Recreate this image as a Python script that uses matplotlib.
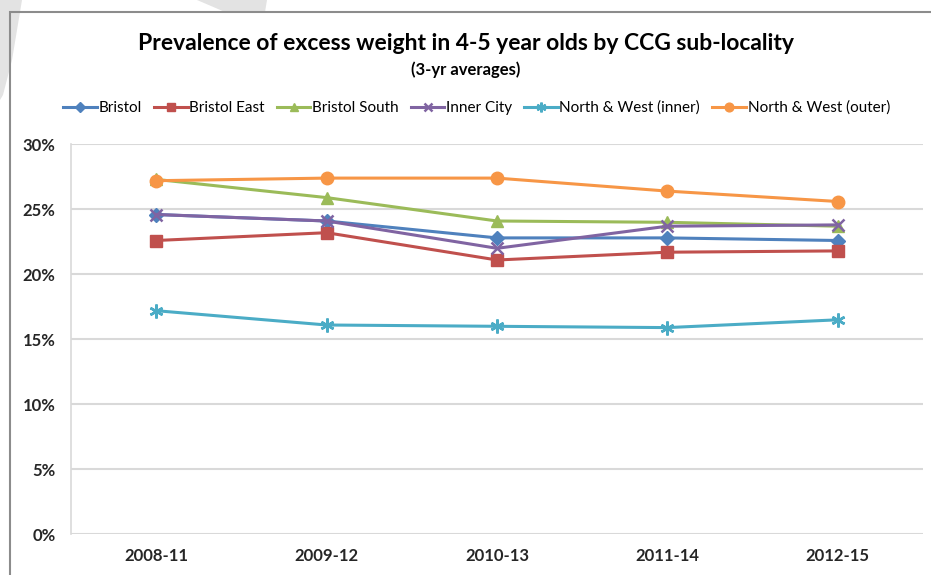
import matplotlib.pyplot as plt
from matplotlib.patches import Polygon, Rectangle
from matplotlib.ticker import FuncFormatter

# data (percent)
periods = ["2008-11", "2009-12", "2010-13", "2011-14", "2012-15"]
bristol = [24.6, 24.1, 22.8, 22.8, 22.6]
bristol_east = [22.6, 23.2, 21.1, 21.7, 21.8]
bristol_south = [27.3, 25.9, 24.1, 24.0, 23.7]
inner_city = [24.6, 24.1, 22.0, 23.7, 23.8]
nw_inner = [17.2, 16.1, 16.0, 15.9, 16.5]
nw_outer = [27.2, 27.4, 27.4, 26.4, 25.6]

series = [
    ("Bristol", bristol, "#4F81BD", "D", 7),
    ("Bristol East", bristol_east, "#C0504D", "s", 8),
    ("Bristol South", bristol_south, "#9BBB59", "^", 9),
    ("Inner City", inner_city, "#8064A2", "x", 8),
    ("North & West (inner)", nw_inner, "#4BACC6", (6, 2, 0), 10),
    ("North & West (outer)", nw_outer, "#F79646", "o", 9),
]

plt.rcParams['font.family'] = ['Lato', 'DejaVu Sans']

fig = plt.figure(figsize=(9.31, 5.75), dpi=100)

# faint watermark fragments in the top-left corner
fig.patches.append(Polygon([(0, 1), (22 / 931, 1), (12 / 931, 1 - 60 / 575), (3 / 931, 1 - 95 / 575), (0, 1 - 100 / 575)],
                           closed=True, transform=fig.transFigure, facecolor="#e3e3e3", edgecolor="none", zorder=0))
fig.patches.append(Polygon([(197 / 931, 1), (267 / 931, 1), (265 / 931, 1 - 12 / 575), (225 / 931, 1 - 12 / 575)],
                           closed=True, transform=fig.transFigure, facecolor="#e3e3e3", edgecolor="none", zorder=0))
# chart frame (runs off right and bottom)
fig.patches.append(Rectangle((9.5 / 931, -0.01), 1.0, 1 - 11.5 / 575 + 0.01, transform=fig.transFigure,
                             facecolor="none", edgecolor="#8c8c8c", linewidth=1.5, zorder=1))

ax = fig.add_axes([71 / 931, 1 - 534.3 / 575, (923 - 71) / 931, 390 / 575])
x = list(range(len(periods)))
for name, vals, col, mk, ms in series:
    ax.plot(x, vals, color=col, marker=mk, markersize=ms, linewidth=2.2, label=name,
            markeredgewidth=1.8 if mk in ("x", (6, 2, 0)) else 1.0)

ax.set_xlim(-0.5, len(periods) - 0.5)
ax.set_ylim(0, 30)
ax.set_yticks(range(0, 31, 5))
ax.yaxis.set_major_formatter(FuncFormatter(lambda v, p: f"{int(v)}%"))
ax.set_xticks(x)
ax.set_xticklabels(periods)
ax.grid(axis="y", color="#d9d9d9", linewidth=1.5)
ax.set_axisbelow(True)
for s in ("top", "right", "bottom"):
    ax.spines[s].set_visible(False)
ax.spines["left"].set_color("#d9d9d9")
ax.spines["left"].set_linewidth(1.2)
ax.tick_params(length=0, labelsize=12, pad=11)
ax.tick_params(axis="x", pad=10)
for lbl in ax.get_xticklabels() + ax.get_yticklabels():
    lbl.set_fontweight("bold")
    lbl.set_color("#262626")

fig.text(0.5, 1 - 44 / 575, "Prevalence of excess weight in 4-5 year olds by CCG sub-locality",
         ha="center", va="center", fontsize=16.5, fontweight="bold")
fig.text(0.5, 1 - 70 / 575, "(3-yr averages)", ha="center", va="center", fontsize=12, fontweight="bold")

fig.legend(loc="center", bbox_to_anchor=(0.512, 1 - 108 / 575), ncol=6, frameon=False, fontsize=11,
           handlelength=2.2, handletextpad=0.1, columnspacing=0.8, markerscale=0.7)

plt.savefig("out.png", dpi=100)
